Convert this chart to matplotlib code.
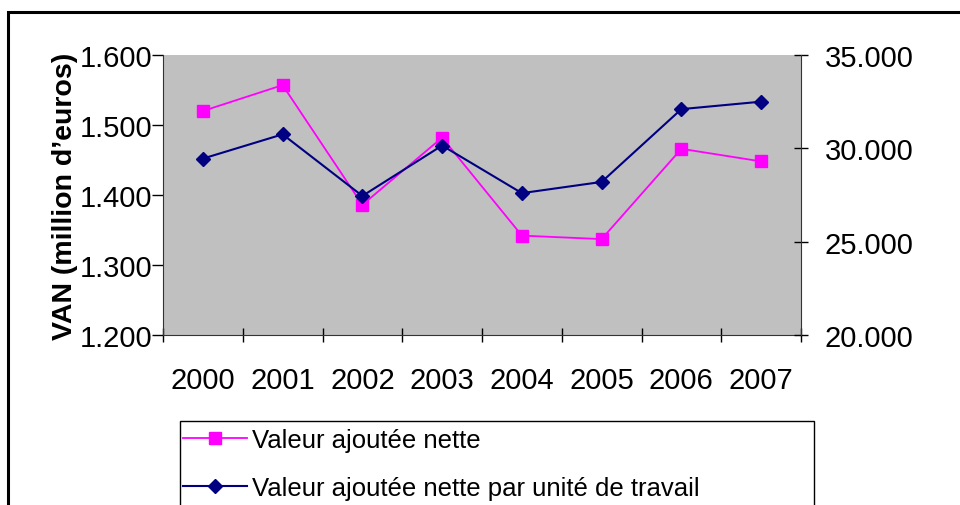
import matplotlib.pyplot as plt
from matplotlib.patches import Rectangle
from matplotlib.lines import Line2D

years = ["2000", "2001", "2002", "2003", "2004", "2005", "2006", "2007"]
van = [1.520, 1.557, 1.386, 1.482, 1.342, 1.337, 1.466, 1.448]
van_per_unit = [29450, 30750, 27450, 30150, 27600, 28200, 32100, 32500]

plt.rcParams['font.family'] = ['Liberation Sans', 'DejaVu Sans']

W, H = 960, 506
fig = plt.figure(figsize=(W / 100, H / 100), dpi=100)

# outer chart frame (clipped on right and bottom like the original)
fig.patches.append(Rectangle((8 / W, -0.1), 1.2, (H - 13) / H + 0.1,
                             transform=fig.transFigure, fill=False,
                             edgecolor='black', linewidth=2.2))

ax = fig.add_axes([163 / W, 1 - 336 / H, (801 - 163) / W, (336 - 56) / H])
ax.set_facecolor('#c0c0c0')
x = list(range(len(years)))

ax.plot(x, van, color='#ff00ff', marker='s', markersize=8, linewidth=1.3)
ax.set_xlim(-0.5, len(years) - 0.5)
ax.set_ylim(1.2, 1.6)
ax.set_yticks([1.2, 1.3, 1.4, 1.5, 1.6])
ax.set_yticklabels(["1.200", "1.300", "1.400", "1.500", "1.600"], fontsize=21)
ax.set_xticks([i - 0.5 for i in range(len(years) + 1)], minor=False)
ax.set_xticklabels([])
ax.set_xticks(x, minor=True)
ax.set_xticklabels(years, minor=True, fontsize=21)
ax.tick_params(axis='x', which='minor', length=0, pad=22)
ax.tick_params(axis='x', which='major', direction='inout', length=10, width=1)
ax.tick_params(axis='y', direction='out', length=8, width=1, pad=0)
for s in ['top', 'right']:
    ax.spines[s].set_visible(False)
ax.spines['left'].set_color('#333333')
ax.spines['bottom'].set_color('#333333')
ax.set_ylabel("VAN (million d\u2019euros)", fontsize=20.5, fontweight='bold', labelpad=1)

ax2 = ax.twinx()
ax2.plot(x, van_per_unit, color='#000080', marker='D', markersize=7, linewidth=1.5)
ax2.set_ylim(20000, 35000)
ax2.set_yticks([20000, 25000, 30000, 35000])
ax2.set_yticklabels(["20.000", "25.000", "30.000", "35.000"], fontsize=21)
ax2.tick_params(axis='y', direction='inout', length=10, width=1, pad=12)
for s in ['top', 'left', 'bottom']:
    ax2.spines[s].set_visible(False)
ax2.spines['right'].set_color('#333333')

# legend box, partly cut off at the bottom
fig.patches.append(Rectangle((180 / W, -0.1), (814 - 180) / W, (H - 422) / H + 0.1,
                             transform=fig.transFigure, fill=False,
                             edgecolor='black', linewidth=1))
handles = [Line2D([], [], color='#ff00ff', marker='s', markersize=8, linewidth=1.3),
           Line2D([], [], color='#000080', marker='D', markersize=7, linewidth=1.5)]
labels = ["Valeur ajoutée nette", "Valeur ajoutée nette par unité de travail"]
leg = fig.legend(handles, labels, loc='upper left',
                 bbox_to_anchor=(180 / W, 1 - 426 / H),
                 fontsize=18.5, frameon=False, handlelength=2.5,
                 handletextpad=0.2, borderpad=0.1, labelspacing=0.95,
                 borderaxespad=0)

fig.savefig("out.png", dpi=100)
